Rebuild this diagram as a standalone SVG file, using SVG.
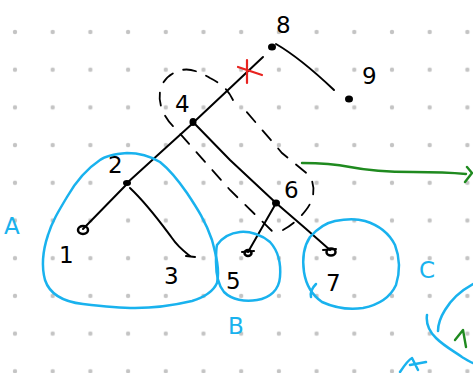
<svg xmlns="http://www.w3.org/2000/svg" width="473" height="373" viewBox="0 0 473 373">
<defs>
<style>
.dot{fill:#c4c4c4}
.edge{fill:none;stroke:#000;stroke-width:2;stroke-linecap:round;stroke-linejoin:round}
.nd{fill:#000}
.open{fill:none;stroke:#000;stroke-width:2.5}
.lbl{font-family:"DejaVu Sans","Liberation Sans",sans-serif;font-size:23px;fill:#000}
.blue{fill:none;stroke:#19b2ee;stroke-width:2.5;stroke-linecap:round;stroke-linejoin:round}
.blbl{font-family:"DejaVu Sans","Liberation Sans",sans-serif;font-size:23px;fill:#19b2ee}
.dash{fill:none;stroke:#000;stroke-width:1.8;stroke-dasharray:13 11;stroke-linecap:round}
.green{fill:none;stroke:#1f8a1f;stroke-width:2.4;stroke-linecap:round;stroke-linejoin:round}
</style>
<pattern id="grid" x="15" y="32" width="37.7" height="37.7" patternUnits="userSpaceOnUse">
<circle cx="0" cy="0" r="2.2" class="dot"/><circle cx="37.7" cy="0" r="2.2" class="dot"/><circle cx="0" cy="37.7" r="2.2" class="dot"/><circle cx="37.7" cy="37.7" r="2.2" class="dot"/>
</pattern>
</defs>
<rect width="473" height="373" fill="#fff"/>
<rect x="0" y="0" width="473" height="373" fill="url(#grid)"/>

<g id="connectors">
<path class="edge" d="M276,44 C295,55 315,72 334,90"/>
<path class="edge" d="M263,57 L228,90 L195,121"/>
<path class="edge" d="M193,122 L230,160 L276,203 L305,228 L330,250"/>
<path class="edge" d="M192,124 L160,153 L127,183"/>
<path class="edge" d="M126,185 L83,229"/>
<path class="edge" d="M130,188 C148,205 160,222 172,238 C178,247 185,252 190,256"/>
<path class="edge" d="M275,205 L248,252"/>
<path class="edge" d="M242,252 L254,251"/>
<path class="edge" d="M186,256 L195,257"/>
<path class="edge" d="M323,250 L336,249"/>
<path class="dash" d="M233,100 C228,90 222,84 210,78 C200,72 190,68 182,70 C170,73 162,80 160,92 C158,104 164,118 175,128 L230,190 L272,231 M283,230 C292,225 300,218 306,210 C314,200 316,188 310,176 L282,153 L245,110"/>
<path fill="none" stroke="#e8231f" stroke-width="2.2" stroke-linecap="round" d="M247,60 L247,83 M238,67 L262,75"/>
<path class="green" d="M302,163 C320,163 335,164 350,167 C365,170 380,172 413,172 C430,172 445,172 466,174 M467,167 L472,173 L465,182"/>
</g>

<g id="node-8"><ellipse class="nd" cx="272" cy="47" rx="4" ry="3.5"/><text class="lbl" x="276" y="33">8</text></g>
<g id="node-9"><ellipse class="nd" cx="349" cy="99" rx="4" ry="3.5"/><text class="lbl" x="362" y="84">9</text></g>
<g id="node-4"><ellipse class="nd" cx="193" cy="122" rx="3.5" ry="4"/><text class="lbl" x="175" y="112">4</text></g>
<g id="node-2"><ellipse class="nd" cx="127" cy="183" rx="4" ry="3"/><text class="lbl" x="108" y="173">2</text></g>
<g id="node-1"><ellipse class="open" cx="83" cy="230" rx="5" ry="4"/><text class="lbl" x="59" y="263">1</text></g>
<g id="node-3"><text class="lbl" x="164" y="284">3</text></g>
<g id="node-6"><ellipse class="nd" cx="276" cy="203" rx="4" ry="3.5"/><text class="lbl" x="284" y="198">6</text></g>
<g id="node-5"><ellipse class="open" cx="248" cy="253" rx="3.5" ry="3"/><text class="lbl" x="226" y="289">5</text></g>
<g id="node-7"><ellipse class="open" cx="331" cy="252" rx="4.5" ry="3.5"/><text class="lbl" x="326" y="291">7</text></g>

<g id="group-A">
<path class="blue" d="M127,153 C115,154 105,156 100,160 C85,170 75,183 67,197 C58,212 52,222 48,235 C43,250 41,265 45,280 C50,295 65,302 83,304 C100,306 118,308 135,308 C155,308 175,305 192,301 C205,297 213,292 217,283 C220,270 216,255 212,240 C206,222 197,208 187,193 C178,180 170,170 160,162 C150,156 138,153 127,153 Z"/>
<text class="blbl" x="4" y="234">A</text>
</g>
<g id="group-B">
<path class="blue" d="M217,245 C222,238 230,233 240,232 C250,231 262,235 270,242 C279,252 281,265 280,277 C279,290 270,298 257,300 C245,302 232,300 224,292 C218,285 216,272 216,262 C216,255 216,249 217,245 Z"/>
<text class="blbl" x="228" y="334">B</text>
</g>
<g id="group-C">
<path class="blue" d="M310,237 C318,228 325,223 335,221 C345,219 355,218 365,221 C378,225 389,233 395,245 C400,258 400,272 396,285 C390,298 378,305 363,308 C348,310 333,307 322,302 C312,295 306,285 304,272 C302,258 304,246 310,237 Z"/>
<path class="blue" d="M316,284 C312,288 310,292 311,297"/>
<text class="blbl" x="419" y="278">C</text>
</g>
<g id="group-A2">
<path class="blue" d="M473,284 C462,290 452,298 445,310 C440,318 438,325 438,331"/>
<path class="blue" d="M427,315 C426,322 428,330 436,338 C444,346 455,352 462,357 C467,360 470,362 473,363"/>
<path class="green" d="M455,340 L463,330 L466,347"/>
<path class="blue" d="M400,372 C404,366 408,360 412,358 C414,362 416,366 418,370 M410,365 L426,362"/>
</g>
</svg>
